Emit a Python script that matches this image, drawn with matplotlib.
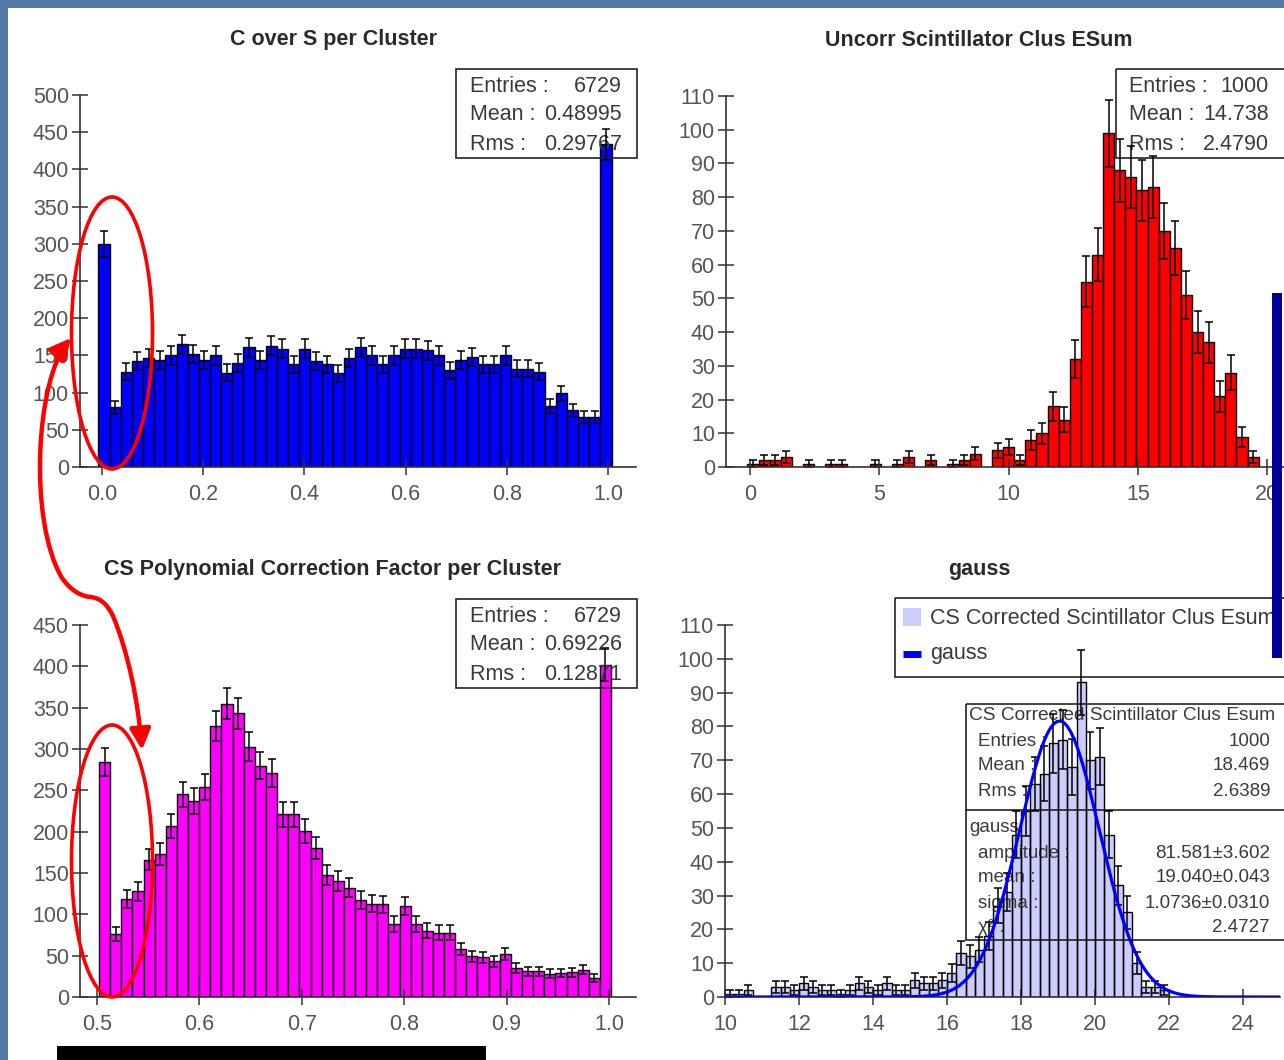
import numpy as np
import matplotlib
matplotlib.use("Agg")
import matplotlib.pyplot as plt
import matplotlib.transforms as mtransforms
from matplotlib.patches import Rectangle, Ellipse, FancyArrowPatch
from matplotlib.path import Path

plt.rcParams['font.family'] = ['Liberation Sans', 'DejaVu Sans']

W, H = 1284, 1060

# ── data ──────────────────────────────────────────────────────────────────
# C over S per cluster: 46 bins
cs_lo, cs_hi = -0.007, 1.007
cs_counts = [300, 80, 128, 142, 147, 144, 150, 165, 152, 144, 150, 127, 140, 161,
             144, 163, 159, 138, 159, 142, 138, 126, 147, 161, 150, 138, 150, 159,
             159, 157, 150, 130, 144, 148, 138, 138, 150, 132, 132, 128, 82, 99,
             76, 67, 67, 434]
cs_stats = [("Entries :", "6729"), ("Mean :", "0.48995"), ("Rms :", "0.29767")]

# Uncorrected scintillator cluster energy sum: 46 bins
unc_lo, unc_hi = -0.1, 19.68
unc_counts = [1, 2, 2, 3, 0, 1, 0, 1, 1, 0, 0, 1, 0, 1, 3, 0, 2, 0, 1, 2, 4, 0,
              5, 6, 2, 8, 10, 18, 14, 32, 55, 63, 99, 88, 86, 82, 83, 70, 65, 51,
              40, 37, 21, 28, 9, 3]
unc_stats = [("Entries :", "1000"), ("Mean :", "14.738"), ("Rms :", "2.4790")]

# CS polynomial correction factor: 46 bins
pf_lo, pf_hi = 0.502, 1.002
pf_counts = [284, 76, 119, 128, 166, 173, 207, 245, 237, 254, 328, 355, 343, 303,
             280, 271, 221, 221, 201, 180, 148, 140, 132, 117, 113, 112, 88, 110,
             88, 80, 78, 78, 58, 49, 48, 43, 52, 35, 31, 31, 28, 29, 30, 33, 23, 402]
pf_stats = [("Entries :", "6729"), ("Mean :", "0.69226"), ("Rms :", "0.12871")]

# CS corrected scintillator cluster energy sum: 0.25 wide bins from 10 to 22
cor_lo, cor_hi = 10.0, 22.0
cor_counts = [1, 1, 2, 0, 0, 3, 3, 2, 4, 3, 2, 2, 1, 2, 4, 3, 2, 4, 2, 2, 5, 4, 4, 5,
              7, 13, 12, 14, 18, 27, 31, 48, 55, 63, 66, 75, 76, 68, 93, 70, 71, 48,
              33, 25, 10, 3, 3, 2]
cor_stats = [("Entries :", "1000"), ("Mean :", "18.469"), ("Rms :", "2.6389")]
fit_name = "gauss"
fit_amp, fit_mean, fit_sigma = 81.581, 19.040, 1.0736
fit_stats = [("amplitude :", "81.581±3.602"), ("mean :", "19.040±0.043"),
             ("sigma :", "1.0736±0.0310"), ("χ² :", "2.4727")]
cor_name = "CS Corrected Scintillator Clus Esum"

TICK_C = "#555555"
TXT_C = "#3a3a3a"
AX_C = "#333333"

fig = plt.figure(figsize=(W / 100, H / 100), dpi=100, facecolor="#537aa6")
# pixel coordinates, origin top-left
px = mtransforms.Affine2D().scale(1, -1).translate(0, H)


def rect(x0, y0, x1, y1):
    return [x0 / W, 1 - y1 / H, (x1 - x0) / W, (y1 - y0) / H]


fig.add_artist(Rectangle((8, 8), W, H, transform=px, fc="white", ec="none",
                         zorder=-10))


def style(ax, xlim, ylim, xstep, ystep, xfmt):
    ax.set_facecolor("none")
    ax.set_xlim(*xlim)
    ax.set_ylim(*ylim)
    for s in ("top", "right"):
        ax.spines[s].set_visible(False)
    for s in ("left", "bottom"):
        ax.spines[s].set_color(AX_C)
        ax.spines[s].set_linewidth(1.2)
    ax.set_xticks(np.arange(np.ceil(xlim[0] / xstep) * xstep, xlim[1] + 1e-9, xstep))
    ax.set_yticks(np.arange(0, ylim[1] + 1e-9, ystep))
    ax.xaxis.set_major_formatter(matplotlib.ticker.FuncFormatter(
        lambda v, _: xfmt % (0.0 if abs(v) < 1e-9 else v)))
    ax.tick_params(direction="inout", length=12, width=1.1, color=AX_C,
                   labelcolor=TICK_C, labelsize=15.5)
    ax.tick_params(axis="x", pad=6)
    ax.tick_params(axis="y", pad=2)


def hist(ax, lo, hi, counts, color, split=False, cap=3):
    counts = np.asarray(counts, float)
    edges = np.linspace(lo, hi, len(counts) + 1)
    centers = 0.5 * (edges[:-1] + edges[1:])
    w = edges[1] - edges[0]
    m = counts > 0
    if split:
        ax.bar(centers[m], counts[m], width=w, color=color, linewidth=0, zorder=1)
        ax.bar(centers[m], counts[m], width=w, fill=False, edgecolor="black",
               linewidth=1, zorder=2)
    else:
        ax.bar(centers[m], counts[m], width=w, color=color, edgecolor="black",
               linewidth=1, zorder=1)
    ax.errorbar(centers[m], counts[m], yerr=np.sqrt(counts[m]), fmt="none",
                ecolor="black", elinewidth=1.1, capsize=cap, capthick=1.1,
                zorder=2.5, clip_on=False)


def stats_box(ax, x0, y0, x1, y1, rows, label_x, value_x, first_y, step, size=15.5):
    ax.add_patch(Rectangle((x0, y0), x1 - x0, y1 - y0, transform=px, fill=False,
                           ec="#222222", lw=1.2, zorder=1.5, clip_on=False))
    for i, (lab, val) in enumerate(rows):
        y = first_y + i * step
        ax.text(label_x, y, lab, transform=px, ha="left", va="center",
                fontsize=size, color=TXT_C, zorder=1.5)
        ax.text(value_x, y, val, transform=px, ha="right", va="center",
                fontsize=size, color=TXT_C, zorder=1.5)


def title(x, y, s):
    fig.text(x / W, 1 - y / H, s, ha="center", va="center", fontsize=15.5,
             fontweight="bold", color="#2a2a2a", family=["Liberation Sans"])


# ── panel 1: C over S ──────────────────────────────────────────────────────
ax1 = fig.add_axes(rect(80, 95, 636, 467))
style(ax1, (-22 / 506, 534 / 506), (0, 500), 0.2, 50, "%.1f")
hist(ax1, cs_lo, cs_hi, cs_counts, "#0000ff")
stats_box(ax1, 456, 69, 637, 158, cs_stats, 470, 622, 86, 29)
title(333, 40, "C over S per Cluster")

# ── panel 2: uncorrected ESum ──────────────────────────────────────────────
ax2 = fig.add_axes(rect(726, 96, 1300, 467))
style(ax2, (-24 / 25.85, 550 / 25.85), (0, 110), 5, 10, "%d")
hist(ax2, unc_lo, unc_hi, unc_counts, "#ff0000")
stats_box(ax2, 1116, 69, 1300, 158, unc_stats, 1129, 1269, 86, 29)
title(979, 40, "Uncorr Scintillator Clus ESum")

# ── panel 3: correction factor ─────────────────────────────────────────────
ax3 = fig.add_axes(rect(80, 625, 636, 997))
style(ax3, (0.5 - 17 / 1024, 0.5 + 539 / 1024), (0, 450), 0.1, 50, "%.1f")
hist(ax3, pf_lo, pf_hi, pf_counts, "#ff00ff")
stats_box(ax3, 456, 599, 637, 688, pf_stats, 470, 622, 616, 29)
title(333, 569, "CS Polynomial Correction Factor per Cluster")

# ── panel 4: corrected ESum with gauss fit ─────────────────────────────────
ax4 = fig.add_axes(rect(725, 625, 1280, 997))
style(ax4, (10, 25), (0, 110), 2, 10, "%d")
hist(ax4, cor_lo, cor_hi, cor_counts, "#ccccff", split=True, cap=2.6)
xf = np.linspace(10, 25, 600)
ax4.plot(xf, fit_amp * np.exp(-0.5 * ((xf - fit_mean) / fit_sigma) ** 2),
         color="#0000ff", lw=2.3, zorder=3, solid_capstyle="butt")
# stats box with fit results
ax4.add_patch(Rectangle((966, 704), 330, 236, transform=px, fill=False,
                        ec="#222222", lw=1.2, zorder=1.5, clip_on=False))
ax4.plot([966, 1296], [810, 810], transform=px, color="#222222", lw=1.2,
         zorder=1.5, clip_on=False)
ax4.text(969, 716, cor_name, transform=px, ha="left", va="center", fontsize=13.8,
         color=TXT_C, zorder=1.5)
for i, (lab, val) in enumerate(cor_stats):
    ax4.text(978, 741 + 25 * i, lab, transform=px, ha="left", va="center",
             fontsize=13.5, color=TXT_C, zorder=1.5)
    ax4.text(1270, 741 + 25 * i, val, transform=px, ha="right", va="center",
             fontsize=13.5, color=TXT_C, zorder=1.5)
ax4.text(969, 828, fit_name, transform=px, ha="left", va="center", fontsize=13.5,
         color=TXT_C, zorder=1.5)
for i, (lab, val) in enumerate(fit_stats):
    ax4.text(978, 853 + 25 * i, lab, transform=px, ha="left", va="center",
             fontsize=13.5, color=TXT_C, zorder=1.5)
    ax4.text(1270, 853 + 25 * i, val, transform=px, ha="right", va="center",
             fontsize=13.5, color=TXT_C, zorder=1.5)
# legend
ax4.add_patch(Rectangle((895, 598), 400, 79, transform=px, fill=False,
                        ec="#222222", lw=1.2, zorder=1.5, clip_on=False))
ax4.add_patch(Rectangle((903, 608), 18, 18, transform=px, fc="#ccccff", ec="none",
                        zorder=1.5, clip_on=False))
ax4.plot([903, 921], [654, 654], transform=px, color="#0000ff", lw=5,
         solid_capstyle="butt", clip_on=False, zorder=1.5)
ax4.text(930, 619, cor_name, transform=px, ha="left", va="center", fontsize=15.5,
         color=TXT_C, zorder=1.5)
ax4.text(930, 654, fit_name, transform=px, ha="left", va="center", fontsize=15.5,
         color=TXT_C, zorder=1.5)
title(979, 569, "gauss")

# ── slide decorations: red annotations, dark strips ─────────────────────────
for cy in (333, 861):
    fig.add_artist(Ellipse((112, cy), 81, 272, transform=px, fill=False,
                           ec="#ff0000", lw=2.6, zorder=5))
verts = [(71, 338),
         (36, 380), (28, 520), (62, 578),
         (72, 592), (82, 596), (90, 597),
         (102, 598), (108, 606), (113, 616),
         (128, 652), (138, 700), (142, 750)]
codes = [Path.MOVETO] + [Path.CURVE4] * 12
fig.add_artist(FancyArrowPatch(path=Path(verts, codes), transform=px,
                               arrowstyle="<|-|>,head_length=0.9,head_width=0.45",
                               mutation_scale=14, color="#ff0000", lw=3.2, zorder=5))
fig.add_artist(Rectangle((1272, 293), 10, 365, transform=px, fc="#000099",
                         ec="none", zorder=6))
fig.add_artist(Rectangle((57, 1046), 429, 14, transform=px, fc="black",
                         ec="none", zorder=6))

fig.savefig("out.png", dpi=100, facecolor=fig.get_facecolor())
